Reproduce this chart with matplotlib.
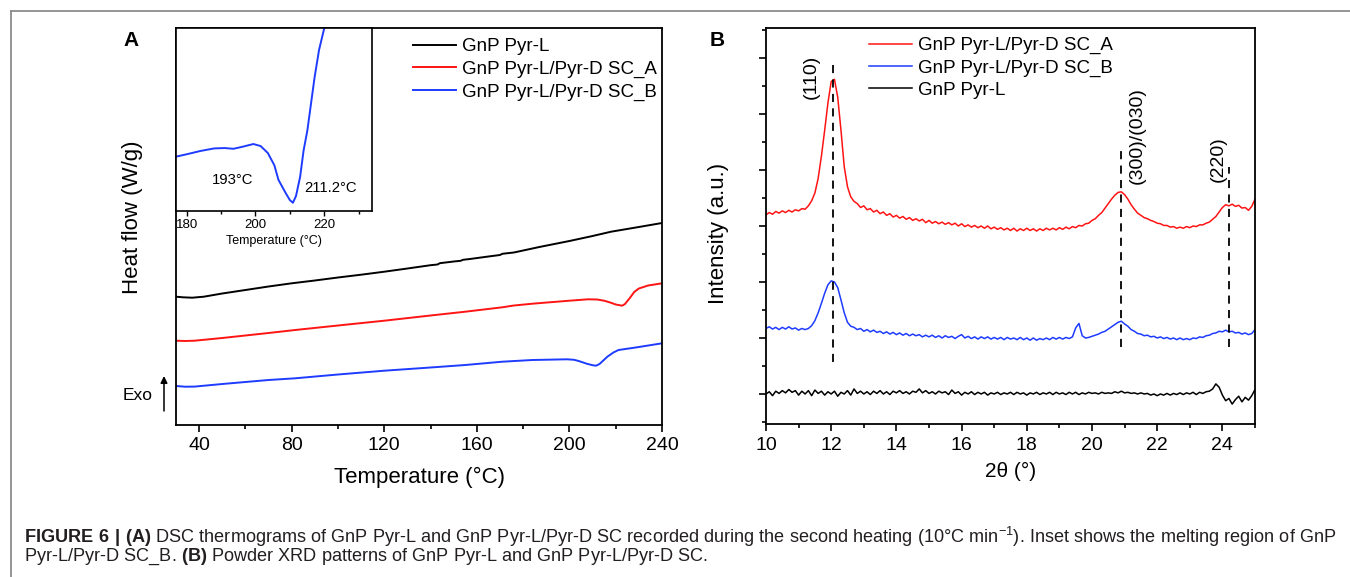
import numpy as np
import matplotlib
matplotlib.use("Agg")
import matplotlib.pyplot as plt
from matplotlib.lines import Line2D
from matplotlib.ticker import MultipleLocator, NullLocator

plt.rcParams['font.family'] = ['Liberation Sans', 'DejaVu Sans']
plt.rcParams['mathtext.fontset'] = 'custom'
plt.rcParams['mathtext.rm'] = 'Liberation Sans'
plt.rcParams['mathtext.bf'] = 'Liberation Sans:bold'

# --- (A) DSC second heating, heat flow in arbitrary offset units ---
dsc_t_l = [30, 33, 37, 42, 50, 60, 70, 80, 90, 100, 110, 120, 130, 140, 143, 144,
           150, 153, 154, 157, 165, 170, 171, 176, 187, 200, 210, 218, 230, 240]
dsc_hf_l = [1.283, 1.277, 1.273, 1.283, 1.315, 1.35, 1.385, 1.417, 1.445, 1.475,
            1.503, 1.533, 1.565, 1.598, 1.605, 1.618, 1.635, 1.642, 1.652, 1.66,
            1.685, 1.70, 1.712, 1.725, 1.78, 1.84, 1.89, 1.933, 1.98, 2.02]

dsc_t_a = [30, 34, 38, 50, 60, 70, 81.5, 100, 120, 140, 155, 171, 176, 185, 200,
           208, 212, 215, 218, 220, 222.8, 224, 226, 228, 230, 234, 240]
dsc_hf_a = [0.843, 0.840, 0.843, 0.87, 0.895, 0.92, 0.95, 0.995, 1.043, 1.095,
            1.133, 1.177, 1.195, 1.215, 1.243, 1.257, 1.255, 1.243, 1.222, 1.205,
            1.193, 1.21, 1.267, 1.33, 1.365, 1.395, 1.417]

dsc_t_b = [30, 34, 38, 50, 60, 70, 81.5, 100, 120, 140, 155, 171, 184, 199, 202,
           204, 207.6, 210, 211.5, 213, 216.4, 219, 221.2, 229.2, 240]
dsc_hf_b = [0.39, 0.383, 0.384, 0.41, 0.43, 0.45, 0.467, 0.505, 0.543, 0.575,
            0.60, 0.633, 0.65, 0.657, 0.652, 0.64, 0.612, 0.598, 0.593, 0.61,
            0.683, 0.725, 0.75, 0.777, 0.817]

# inset: melting region of SC_B
inset_t = [176.9, 180, 184, 188, 191, 193.6, 196, 199.4, 201.5, 203.6, 205.5,
           206.7, 208.8, 210.0, 210.9, 211.8, 213.0, 214.0, 215.1, 217.2, 218.5,
           220.0, 221.0]
inset_hf = [29.7, 31.0, 32.8, 34.2, 34.4, 34.0, 35.0, 36.6, 35.5, 31.7, 25.0,
            17.0, 9.8, 6.0, 4.5, 8.2, 18.7, 33.0, 44.0, 73.0, 88.0, 99.8, 107.0]

labels_a = ['GnP Pyr-L', 'GnP Pyr-L/Pyr-D SC_A', 'GnP Pyr-L/Pyr-D SC_B']

# --- (B) powder XRD, 2theta 10..25 step 0.1, one row per degree ---
xrd_two_theta = np.round(np.arange(10.0, 25.05, 0.1), 1)

xrd_sc_a = [
    3.20, 3.24, 3.21, 3.26, 3.23, 3.27, 3.24, 3.28, 3.25, 3.29,
    3.27, 3.31, 3.30, 3.36, 3.45, 3.59, 3.85, 4.25, 4.71, 5.20,
    5.58, 5.62, 5.30, 4.71, 4.06, 3.70, 3.52, 3.44, 3.40, 3.33,
    3.36, 3.29, 3.31, 3.25, 3.28, 3.22, 3.25, 3.19, 3.22, 3.16,
    3.19, 3.14, 3.17, 3.12, 3.15, 3.10, 3.13, 3.09, 3.12, 3.06,
    3.10, 3.05, 3.08, 3.04, 3.07, 3.03, 3.06, 3.02, 3.05, 3.00,
    3.04, 2.99, 3.02, 2.98, 3.01, 2.97, 3.00, 2.96, 3.00, 2.95,
    2.98, 2.94, 2.97, 2.93, 2.96, 2.92, 2.96, 2.91, 2.95, 2.92,
    2.96, 2.92, 2.95, 2.91, 2.95, 2.92, 2.96, 2.93, 2.96, 2.93,
    2.97, 2.94, 2.98, 2.95, 2.99, 2.97, 3.01, 3.00, 3.04, 3.05,
    3.10, 3.13, 3.19, 3.24, 3.32, 3.40, 3.48, 3.55, 3.60, 3.61,
    3.56, 3.48, 3.38, 3.30, 3.23, 3.19, 3.15, 3.13, 3.10, 3.08,
    3.05, 3.04, 3.01, 3.01, 2.98, 2.99, 2.96, 2.98, 2.96, 2.99,
    2.97, 3.00, 2.99, 3.02, 3.02, 3.05, 3.07, 3.12, 3.17, 3.25,
    3.33, 3.38, 3.36, 3.39, 3.35, 3.37, 3.32, 3.33, 3.28, 3.35,
    3.48]

xrd_sc_b = [
    1.17, 1.20, 1.16, 1.19, 1.15, 1.19, 1.16, 1.20, 1.16, 1.18,
    1.14, 1.17, 1.15, 1.17, 1.22, 1.31, 1.45, 1.62, 1.80, 1.95,
    2.02, 2.00, 1.90, 1.68, 1.45, 1.28, 1.21, 1.19, 1.15, 1.17,
    1.12, 1.15, 1.11, 1.14, 1.10, 1.12, 1.08, 1.11, 1.07, 1.10,
    1.06, 1.09, 1.05, 1.08, 1.04, 1.07, 1.04, 1.06, 1.02, 1.05,
    1.02, 1.05, 1.01, 1.04, 1.00, 1.04, 1.01, 1.03, 0.99, 1.03,
    1.06, 1.00, 1.03, 0.99, 1.02, 0.98, 1.02, 0.99, 1.02, 0.98,
    1.01, 0.98, 1.01, 0.97, 1.01, 0.98, 1.00, 0.97, 1.01, 0.97,
    1.00, 0.96, 1.00, 0.96, 0.99, 0.97, 1.00, 0.97, 1.01, 0.98,
    1.01, 0.98, 1.01, 0.99, 1.02, 1.18, 1.26, 1.04, 1.00, 1.01,
    1.03, 1.05, 1.07, 1.10, 1.12, 1.16, 1.20, 1.24, 1.28, 1.30,
    1.25, 1.21, 1.15, 1.12, 1.08, 1.07, 1.04, 1.05, 1.02, 1.03,
    1.00, 1.02, 0.99, 1.01, 0.98, 1.00, 0.97, 1.00, 0.97, 0.99,
    0.97, 1.00, 0.99, 1.02, 1.01, 1.04, 1.05, 1.08, 1.09, 1.12,
    1.11, 1.14, 1.11, 1.12, 1.09, 1.10, 1.07, 1.09, 1.06, 1.08,
    1.15]

xrd_pyr_l = [
    0.00, 0.04, -0.03, 0.05, 0.01, 0.06, 0.02, 0.08, 0.03, 0.06,
    -0.02, 0.05, 0.00, 0.06, -0.03, 0.07, 0.01, 0.05, -0.02, 0.04,
    0.00, 0.05, -0.04, 0.03, 0.00, 0.06, -0.02, 0.09, 0.01, 0.05,
    0.00, 0.04, -0.01, 0.05, 0.01, 0.06, 0.00, 0.04, -0.01, 0.05,
    0.02, 0.06, 0.01, 0.04, 0.00, 0.05, 0.03, 0.09, 0.02, 0.06,
    0.01, 0.04, 0.00, 0.05, 0.02, 0.04, -0.01, 0.07, 0.01, 0.04,
    -0.02, 0.03, 0.00, 0.04, -0.01, 0.03, 0.00, 0.03, -0.02, 0.02,
    0.00, 0.03, -0.01, 0.02, 0.00, 0.03, -0.01, 0.03, 0.00, 0.02,
    -0.02, 0.02, 0.00, 0.03, -0.01, 0.02, 0.00, 0.03, -0.01, 0.03,
    0.00, 0.02, -0.01, 0.03, 0.00, 0.03, -0.01, 0.02, 0.00, 0.03,
    0.01, 0.02, 0.00, 0.03, 0.01, 0.02, 0.01, 0.04, 0.02, 0.05,
    0.02, 0.03, 0.01, 0.02, 0.00, 0.02, 0.00, 0.01, -0.02, 0.00,
    -0.03, 0.00, -0.02, 0.01, -0.02, 0.01, -0.01, 0.02, -0.01, 0.02,
    0.00, 0.03, -0.01, 0.03, 0.01, 0.04, 0.05, 0.09, 0.18, 0.12,
    -0.02, -0.12, -0.08, -0.18, -0.10, -0.04, -0.14, -0.06, -0.11, -0.03,
    0.08]

labels_b = ['GnP Pyr-L/Pyr-D SC_A', 'GnP Pyr-L/Pyr-D SC_B', 'GnP Pyr-L']

# reflections: position, dashed line extent, label and label centre
refl_pos = [12.05, 20.9, 24.2]
refl_lo = [0.57, 0.84, 0.84]
refl_hi = [5.93, 4.39, 4.05]
refl_names = ['(110)', '(300)/(030)', '(220)']
refl_label_x = [11.38, 21.38, 23.87]
refl_label_y = [5.67, 4.62, 4.19]

RED = '#ff1414'
BLUE = '#1e3cff'

W, H = 1350, 577
fig = plt.figure(figsize=(W / 100, H / 100), dpi=100)


def box(l, t, r, b):
    # pixel box -> figure fraction
    return [l / W, 1 - b / H, (r - l) / W, (b - t) / H]


def style_spines(ax, lw=1.3):
    for s in ax.spines.values():
        s.set_linewidth(lw)


# --- Panel A ---
axA = fig.add_axes(box(176, 28, 662, 425))
axA.plot(dsc_t_l, dsc_hf_l, color='black', lw=1.4, label=labels_a[0])
axA.plot(dsc_t_a, dsc_hf_a, color=RED, lw=1.4, label=labels_a[1])
axA.plot(dsc_t_b, dsc_hf_b, color=BLUE, lw=1.4, label=labels_a[2])
axA.set_xlim(30, 240)
axA.set_ylim(0, 3.97)
axA.xaxis.set_major_locator(MultipleLocator(40))
axA.xaxis.set_minor_locator(MultipleLocator(20))
axA.yaxis.set_major_locator(NullLocator())
axA.tick_params(axis='x', which='major', direction='out', length=5, width=1.2,
                labelsize=14, pad=4)
axA.tick_params(axis='x', which='minor', direction='out', length=3, width=1.2)
style_spines(axA)
axA.set_xlabel('Temperature (°C)', fontsize=16, labelpad=9)
axA.set_ylabel('Heat flow (W/g)', fontsize=16)
axA.yaxis.set_label_coords((143 - 176) / 486, (425 - 217) / 397)
axA.legend(loc='upper left', bbox_to_anchor=(413 / W, 1 - 38 / H),
           bbox_transform=fig.transFigure, frameon=False, fontsize=13.5,
           handlelength=2.3, handletextpad=0.3, labelspacing=0.3,
           borderpad=0, borderaxespad=0)

fig.text(138 / W, 1 - 395 / H, 'Exo', fontsize=12.5, ha='center', va='center')
axA.annotate('', xy=(164 / W, 1 - 376 / H), xytext=(164 / W, 1 - 411 / H),
             xycoords='figure fraction', textcoords='figure fraction',
             arrowprops=dict(arrowstyle='-|>', color='black', lw=1.1,
                             mutation_scale=10, shrinkA=0, shrinkB=0))
fig.text(131 / W, 1 - 40 / H, 'A', fontsize=15, fontweight='bold',
         ha='center', va='center')

# inset
axI = fig.add_axes(box(176, 28, 372, 211))
axI.set_facecolor('white')
axI.plot(inset_t, inset_hf, color=BLUE, lw=1.4)
axI.set_xlim(176.9, 233.9)
axI.set_ylim(0, 100)
axI.xaxis.set_major_locator(MultipleLocator(20))
axI.xaxis.set_minor_locator(MultipleLocator(10))
axI.yaxis.set_major_locator(NullLocator())
axI.tick_params(axis='x', which='major', direction='out', length=3.5, width=1.0,
                labelsize=9.5, pad=2)
axI.tick_params(axis='x', which='minor', direction='out', length=2, width=1.0)
style_spines(axI, 1.2)
axI.set_xlabel('Temperature (°C)', fontsize=9, labelpad=3)
axI.text(193.5, 17, '193°C', fontsize=10.7, ha='center', va='center')
axI.text(221.9, 12.5, '211.2°C', fontsize=10.7, ha='center', va='center')

# --- Panel B ---
axB = fig.add_axes(box(766, 28, 1255, 424))
axB.plot(xrd_two_theta, xrd_sc_a, color=RED, lw=1.1, label=labels_b[0])
axB.plot(xrd_two_theta, xrd_sc_b, color=BLUE, lw=1.1, label=labels_b[1])
axB.plot(xrd_two_theta, xrd_pyr_l, color='black', lw=1.1, label=labels_b[2])
for p, lo, hi in zip(refl_pos, refl_lo, refl_hi):
    axB.plot([p, p], [lo, hi], color='black', lw=1.3, linestyle=(0, (4.5, 3.5)))
for name, lx, ly in zip(refl_names, refl_label_x, refl_label_y):
    axB.text(lx, ly, name, rotation=90, fontsize=14, ha='center', va='center')
axB.set_xlim(10, 25)
axB.set_ylim(-0.536, 6.536)
axB.xaxis.set_major_locator(MultipleLocator(2))
axB.xaxis.set_minor_locator(MultipleLocator(1))
axB.yaxis.set_major_locator(MultipleLocator(1))
axB.yaxis.set_minor_locator(MultipleLocator(0.5))
axB.tick_params(axis='x', which='major', direction='out', length=5, width=1.2,
                labelsize=14, pad=4)
axB.tick_params(axis='x', which='minor', direction='out', length=3, width=1.2)
axB.tick_params(axis='y', which='major', direction='out', length=5, width=1.2,
                labelleft=False)
axB.tick_params(axis='y', which='minor', direction='out', length=3, width=1.2)
style_spines(axB)
axB.set_xlabel('2θ (°)', fontsize=15, labelpad=6)
axB.set_ylabel('Intensity (a.u.)', fontsize=16)
axB.yaxis.set_label_coords((729 - 766) / 489, (424 - 233) / 396)
axB.legend(loc='upper left', bbox_to_anchor=(869 / W, 1 - 37 / H),
           bbox_transform=fig.transFigure, frameon=False, fontsize=13.5,
           handlelength=2.3, handletextpad=0.3, labelspacing=0.27,
           borderpad=0, borderaxespad=0)
fig.text(717 / W, 1 - 40 / H, 'B', fontsize=15, fontweight='bold',
         ha='center', va='center')

# --- caption and page frame ---
cap1 = (r'$\mathbf{FIGURE\ 6\ |\ (A)}$ DSC thermograms of GnP Pyr-L and GnP '
        r'Pyr-L/Pyr-D SC recorded during the second heating (10°C min$^{-1}$). '
        r'Inset shows the melting region of GnP')
cap2 = (r'Pyr-L/Pyr-D SC_B. $\mathbf{(B)}$ Powder XRD patterns of GnP Pyr-L and '
        r'GnP Pyr-L/Pyr-D SC.')
fig.text(24 / W, 1 - 537 / H, cap1, fontsize=13.1, color='#231f20', va='center')
fig.text(24 / W, 1 - 557 / H, cap2, fontsize=13.1, color='#231f20', va='center')

frame_kw = dict(transform=fig.transFigure, color='#8c8c8c', lw=1.3)
fig.add_artist(Line2D([11 / W, 11 / W], [0, 1 - 11 / H], **frame_kw))
fig.add_artist(Line2D([11 / W, 1], [1 - 11 / H, 1 - 11 / H], **frame_kw))

fig.savefig('out.png', dpi=100)
